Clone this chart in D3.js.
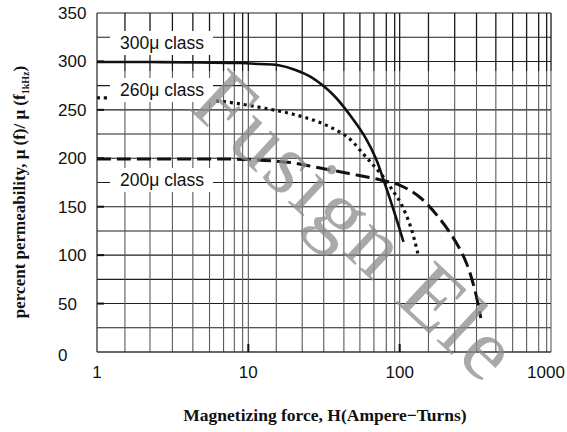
<!DOCTYPE html>
<html><head><meta charset="utf-8">
<script src="https://cdn.jsdelivr.net/npm/d3@7"></script>
<style>html,body{margin:0;padding:0;background:#fff;}svg{display:block;}</style>
</head><body>
<svg id="c" width="567" height="432"></svg>
<script>
// ---- data ----
const yTicks = [0, 50, 100, 150, 200, 250, 300, 350];
const xTicks = [1, 10, 100, 1000];
const xTickLabels = ["1", "10", "100", "1000"];
const yGrid = [25, 50, 75, 100, 125, 150, 175, 200, 225, 250, 275, 300, 325, 350];
const xGrid = [1.53, 2.24, 3.15, 4.3, 5.54, 6.86, 8.08, 9.17, 10,
               15.3, 22.7, 31.5, 42.8, 54.6, 67.6, 81.6, 92.7, 100,
               155, 231, 322, 432, 558, 690, 829, 936, 1000];

const h300 = [1, 2.24, 4.81, 8.85, 12.0, 15.6, 20.5, 25.7, 36.5, 49.6, 59.5, 69.4, 78.3, 91.2, 106];
const p300 = [299.4, 299.4, 298.9, 298.4, 297.3, 296.3, 291.2, 284.2, 265.3, 239.5, 221, 200.2, 177.6, 146.6, 113.6];

const h260 = [1, 1.165, 5.86, 14.0, 22.1, 32.4, 45.9, 57.8, 66.0, 77.1, 91.2, 101.6, 118.3, 133.6];
const p260 = [262.5, 262.3, 259.6, 250.5, 243.5, 234.5, 221, 204, 194, 181.7, 165.2, 153.8, 129.1, 98.1];

const h200 = [1, 4.81, 10, 19.0, 26.9, 45.3, 74.8, 101.5, 137.7, 186.8, 234.9, 277.7, 313.8, 343.7];
const p200 = [199.3, 199.3, 198.7, 195.6, 191.3, 184.5, 177.6, 171.9, 159.0, 136.3, 113.6, 90.9, 64.1, 35.1];

const seriesNames = ["300\u03bc class", "260\u03bc class", "200\u03bc class"];
const xTitle = "Magnetizing force, H(Ampere\u2212Turns)";
const yTitleMain = "percent permeability, \u03bc (f)/ \u03bc (f";
const yTitleSub = "1kHz";
const watermark = "Fusign Ele";

// ---- drawing ----
const svg = d3.select("#c");
const x = d3.scaleLog().domain([1, 1000]).range([97, 551]);
const y = d3.scaleLinear().domain([0, 350]).range([352, 13]);
const ySplit = 290; // grid darker above this value

// horizontal grid
svg.append("g").selectAll("line").data(yGrid).join("line")
  .attr("x1", x(1)).attr("x2", x(1000))
  .attr("y1", d => y(d)).attr("y2", d => y(d))
  .attr("stroke", "#1e1e1e").attr("stroke-width", 1.1);

// vertical grid: lower (grey) and upper (black) parts
svg.append("g").selectAll("line").data(xGrid).join("line")
  .attr("x1", d => x(d)).attr("x2", d => x(d))
  .attr("y1", y(0)).attr("y2", y(ySplit))
  .attr("stroke", "#5a5a5a").attr("stroke-width", 1.1);
svg.append("g").selectAll("line").data(xGrid).join("line")
  .attr("x1", d => x(d)).attr("x2", d => x(d))
  .attr("y1", y(ySplit)).attr("y2", y(350))
  .attr("stroke", "#1a1a1a").attr("stroke-width", 1.3);

// axes lines
svg.append("line").attr("x1", x(1)).attr("x2", x(1)).attr("y1", y(0)).attr("y2", y(350))
  .attr("stroke", "#333").attr("stroke-width", 1.3);
svg.append("line").attr("x1", x(1)).attr("x2", x(1000)).attr("y1", y(0)).attr("y2", y(0))
  .attr("stroke", "#333").attr("stroke-width", 1.3);

// inward tick marks
svg.append("g").selectAll("line").data(yTicks.filter(d => d > 0 && d < 350)).join("line")
  .attr("x1", x(1)).attr("x2", x(1) + 7).attr("y1", d => y(d)).attr("y2", d => y(d))
  .attr("stroke", "#111").attr("stroke-width", 2);
svg.append("g").selectAll("line").data(xTicks.slice(1, 3)).join("line")
  .attr("x1", d => x(d)).attr("x2", d => x(d)).attr("y1", y(0)).attr("y2", y(0) - 8)
  .attr("stroke", "#111").attr("stroke-width", 2);

// tick labels
svg.append("g").selectAll("text").data(yTicks).join("text")
  .attr("x", 58).attr("y", d => y(d) + (d === 0 ? 9 : 6))
  .attr("font-family", "Liberation Sans, Arial, sans-serif").attr("font-size", 17)
  .attr("fill", "#111").text(d => d);
svg.append("g").selectAll("text").data(xTicks).join("text")
  .attr("x", (d, i) => x(d) + (i === 3 ? -5 : 0)).attr("y", 378)
  .attr("text-anchor", "middle")
  .attr("font-family", "Liberation Sans, Arial, sans-serif").attr("font-size", 17)
  .attr("fill", "#111").text((d, i) => xTickLabels[i]);

// curves
const line = d3.line().x(d => x(d[0])).y(d => y(d[1])).curve(d3.curveCatmullRom.alpha(0.5));
const zip = (a, b) => a.map((v, i) => [v, b[i]]);
svg.append("path").attr("d", line(zip(h300, p300))).attr("fill", "none")
  .attr("stroke", "#111").attr("stroke-width", 2.6);
svg.append("path").attr("d", line(zip(h260, p260))).attr("fill", "none")
  .attr("stroke", "#111").attr("stroke-width", 3.2).attr("stroke-dasharray", "3,4");
svg.append("path").attr("d", line(zip(h200, p200))).attr("fill", "none")
  .attr("stroke", "#111").attr("stroke-width", 3).attr("stroke-dasharray", "14,6");

// series labels with white boxes
const lg = svg.append("g");
seriesNames.forEach((s, i) => {
  const yc = [43, 90, 180][i];
  lg.append("rect").attr("x", 110).attr("y", yc - 12).attr("width", 103).attr("height", 24).attr("fill", "#fff");
  lg.append("text").attr("x", 120).attr("y", yc + 6)
    .attr("font-family", "Liberation Sans, Arial, sans-serif").attr("font-size", 17.5)
    .attr("fill", "#111").text(s);
});

// axis titles
svg.append("text").attr("x", 325).attr("y", 421).attr("text-anchor", "middle")
  .attr("font-family", "Liberation Serif, Times New Roman, serif").attr("font-weight", "bold")
  .attr("font-size", 17.5).attr("fill", "#111").text(xTitle);
const yt = svg.append("text").attr("transform", "translate(25,192) rotate(-90)")
  .attr("text-anchor", "middle")
  .attr("font-family", "Liberation Serif, Times New Roman, serif").attr("font-weight", "bold")
  .attr("font-size", 17).attr("fill", "#111");
yt.append("tspan").text(yTitleMain);
yt.append("tspan").attr("font-size", 10).attr("dy", 4).text(yTitleSub);
yt.append("tspan").attr("dy", -4).text(")");

// watermark
svg.append("text").attr("transform", "translate(187,108) rotate(43)")
  .attr("font-family", "Liberation Serif, Times New Roman, serif")
  .attr("font-size", 88).attr("letter-spacing", 3)
  .attr("fill", "#8c8c8c").attr("fill-opacity", 0.75)
  .text(watermark);
</script>
</body></html>
